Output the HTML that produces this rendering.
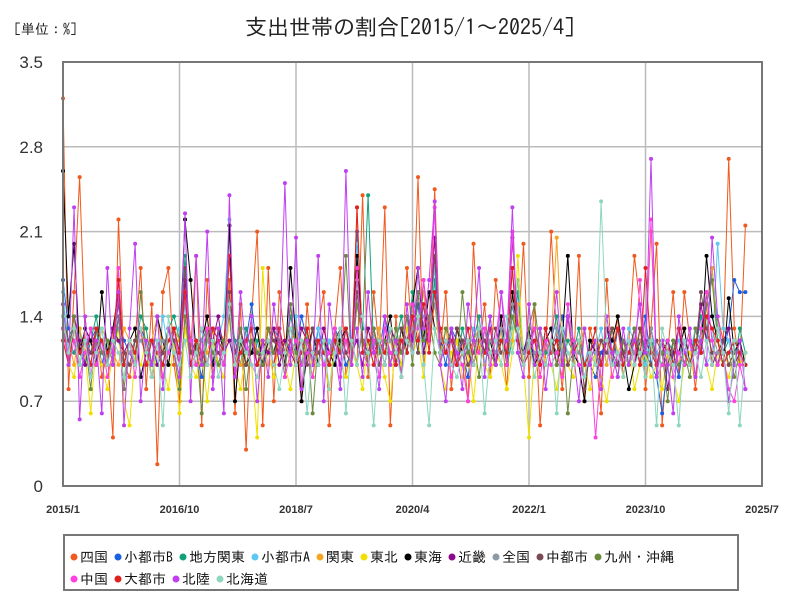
<!DOCTYPE html>
<html><head><meta charset="utf-8">
<style>
body{margin:0;background:#fff;}
svg{display:block;font-family:"Liberation Sans","Noto Sans CJK JP",sans-serif;}
.cjk{font-family:"IPAGothic","Noto Sans CJK JP",sans-serif;}
</style></head>
<body>
<svg id="chart" width="800" height="600" viewBox="0 0 800 600">
<rect width="800" height="600" fill="#fff"/>
<text x="410" y="35" text-anchor="middle" font-size="22" fill="#222" class="cjk">支出世帯の割合[2015/1～2025/4]</text>
<text x="14" y="34" font-size="14" fill="#222" class="cjk">[単位：%]</text>
<g id="grid"></g>
<g id="series"></g>
<rect x="63" y="62" width="699" height="424" fill="none" stroke="#777" stroke-width="2"/>
<g id="axes"></g>
<rect x="64" y="535" width="674" height="55" fill="#fff" stroke="#777" stroke-width="2"/>
<g id="legend"></g>
</svg>
<script>
const yTicks=[0,0.7,1.4,2.1,2.8,3.5];
const yTickLabels=["0","0.7","1.4","2.1","2.8","3.5"];
const xTickMonths=[0,21,42,63,84,105,126];
const xTickLabels=["2015/1","2016/10","2018/7","2020/4","2022/1","2023/10","2025/7"];
const seriesNames=["四国","小都市B","地方関東","小都市A","関東","東北","東海","近畿","全国","中都市","九州・沖縄","中国","大都市","北陸","北海道"];
const seriesColors=["#f05a1e","#1a5fe0","#11a07a","#5ec8f2","#f5a623","#f0e000","#000000","#8b0a8b","#8c9aa8","#7a4a55","#6b8a3e","#ff40e0","#e02020","#c040f0","#8ed6c0"];
const s_shikoku=[3.2,0.8,1.6,2.55,1.2,1.0,1.3,0.9,1.1,0.4,2.2,1.0,0.9,1.2,1.8,0.8,1.5,0.18,1.6,1.8,1.0,0.7,1.4,1.1,1.9,0.5,1.7,0.9,1.3,1.2,1.7,0.6,1.5,0.3,1.4,2.1,0.5,1.8,0.7,1.6,1.2,1.1,1.4,0.7,1.5,1.0,1.3,1.6,0.5,1.3,1.8,0.9,1.2,1.0,2.4,0.9,1.6,1.1,2.3,0.5,1.4,0.9,1.8,1.2,2.55,1.0,1.3,2.45,1.1,1.6,0.8,1.3,1.2,0.7,2.0,1.1,1.5,0.9,1.7,1.3,0.8,1.6,1.2,2.0,0.9,1.5,0.5,1.1,2.1,1.2,0.8,1.4,1.0,1.9,0.7,1.3,1.1,0.6,1.7,1.0,1.4,0.9,1.2,1.9,1.5,0.8,1.3,2.0,0.5,1.1,1.6,0.9,1.6,1.2,0.8,1.3,1.5,1.0,1.4,1.2,2.7,1.3,1.0,2.15];
const s_smallB=[1.7,1.3,1.2,1.1,1.0,1.2,1.3,1.0,1.2,1.1,1.4,1.2,1.1,1.0,1.3,1.2,0.9,1.1,1.2,1.0,1.3,1.1,1.6,1.2,1.1,0.9,1.2,1.3,1.0,1.2,1.4,0.9,1.1,1.2,1.5,1.1,1.0,1.2,1.1,1.3,1.0,1.2,1.1,1.4,1.2,1.0,1.3,1.1,1.0,1.3,1.2,1.0,1.1,2.1,1.2,1.0,1.3,1.1,1.4,1.2,1.1,1.0,1.3,1.2,1.5,1.1,1.4,1.6,1.2,1.0,1.3,1.2,1.1,0.9,1.2,1.3,1.1,1.4,1.0,1.2,1.1,1.5,1.2,1.0,1.1,1.2,1.0,1.3,1.1,1.2,1.4,1.0,1.2,1.1,1.3,1.0,0.9,1.1,1.2,1.0,1.3,1.1,1.0,1.2,1.1,1.4,1.0,0.9,0.6,1.0,1.1,0.9,1.2,1.0,1.3,1.1,1.6,1.2,1.0,1.1,1.3,1.7,1.6,1.6];
const s_chihoKanto=[1.5,1.2,1.1,1.3,1.0,1.2,1.4,1.1,1.0,1.3,1.2,1.0,1.2,1.1,1.4,1.3,1.0,1.2,1.1,1.3,1.4,1.2,1.9,1.1,1.0,1.2,1.3,0.9,1.2,1.1,1.5,1.2,1.0,1.3,1.1,1.2,1.0,1.1,1.3,1.2,1.0,1.4,1.2,1.1,1.3,1.0,1.2,1.1,1.2,1.0,1.3,1.1,1.2,1.0,1.3,2.4,1.1,1.2,1.0,1.3,1.2,1.4,1.1,1.6,1.3,1.5,1.2,1.7,1.1,1.3,1.2,1.0,1.3,1.1,1.2,1.4,1.0,1.2,1.1,1.3,1.0,1.2,1.6,1.1,1.2,1.0,1.3,1.1,1.2,1.4,1.0,1.2,1.1,1.3,1.0,1.2,1.1,1.0,1.2,1.3,1.1,1.0,1.2,1.1,1.3,1.0,1.2,1.1,1.0,1.2,1.1,1.3,1.0,1.2,1.1,1.4,1.2,1.8,1.3,1.1,1.2,1.0,1.3,1.1];
const s_smallA=[1.6,1.1,1.3,1.2,1.0,1.1,1.2,1.3,1.0,1.2,1.5,1.1,1.2,1.0,1.3,1.1,1.2,1.0,1.4,1.1,1.2,1.3,1.5,1.0,1.2,1.1,1.3,1.0,1.2,1.4,2.2,1.0,1.1,1.2,1.3,1.0,1.1,1.2,1.0,1.3,1.1,1.2,1.4,1.0,1.2,1.1,1.3,1.0,1.2,1.1,1.0,1.3,1.2,2.0,1.1,1.2,1.0,1.3,1.1,1.2,1.0,1.3,1.2,1.4,1.1,1.5,1.3,1.8,1.2,1.1,1.3,1.0,1.2,1.1,1.3,1.2,1.0,1.2,1.1,1.4,1.0,1.3,1.7,1.1,1.2,1.3,1.0,1.2,1.1,1.3,1.0,1.5,1.2,1.1,1.0,1.2,1.1,1.3,1.0,1.2,1.1,1.0,1.3,1.2,1.1,1.0,1.3,1.1,1.2,1.0,1.1,1.2,1.0,1.1,1.3,1.2,1.0,1.1,2.0,1.3,1.2,1.0,1.1,1.0];
const s_kanto=[1.4,1.2,1.0,1.3,1.1,1.2,1.0,1.3,1.2,1.1,1.0,1.3,1.2,1.1,1.3,1.0,1.2,1.4,1.1,1.0,1.3,1.2,1.7,1.1,1.0,1.2,1.1,1.3,1.0,1.2,1.4,1.1,1.0,1.2,1.3,1.1,1.2,1.0,1.3,1.1,1.2,1.0,1.1,1.3,1.2,1.0,1.1,1.2,1.0,1.3,1.1,1.2,1.0,2.3,1.1,1.2,1.0,1.3,1.1,1.2,1.0,1.2,1.4,1.1,1.3,1.6,1.2,1.5,1.1,1.3,1.0,1.2,1.1,1.0,1.2,1.3,1.1,1.2,1.0,1.3,1.1,1.2,1.5,1.0,1.2,1.1,1.3,1.0,1.2,2.05,1.1,1.0,1.2,1.1,1.3,1.0,1.1,1.2,1.0,1.3,1.1,1.2,1.0,1.1,1.3,1.2,2.1,1.0,1.1,1.2,1.0,1.1,1.3,1.0,1.2,1.1,1.5,1.8,1.2,1.1,1.0,1.1,1.0,1.1];
const s_tohoku=[1.3,1.0,0.9,1.2,1.1,0.6,1.2,1.0,0.8,1.1,1.3,0.7,0.5,1.1,1.0,1.2,0.9,1.1,1.0,0.8,1.2,0.6,1.3,1.0,0.9,1.1,0.7,1.2,1.0,0.9,1.4,1.0,0.8,1.1,1.0,0.4,1.8,1.1,0.9,1.2,1.0,0.8,1.1,1.0,1.2,0.9,1.1,1.0,0.8,1.2,1.0,0.9,1.1,1.0,0.8,1.2,1.0,1.1,0.9,0.7,1.2,1.0,1.3,1.1,1.2,0.9,1.4,1.1,1.0,0.8,1.1,1.2,0.9,1.1,0.7,1.2,1.0,0.9,1.1,1.0,0.8,1.1,1.9,1.0,0.4,1.1,0.9,1.2,1.0,0.8,1.1,1.0,0.9,1.2,1.0,0.8,1.1,0.9,0.7,1.0,1.1,0.9,1.2,0.8,1.0,1.1,0.9,1.0,0.8,1.1,0.9,0.7,1.0,1.1,0.9,1.2,1.0,0.8,1.1,1.0,0.9,1.1,1.0,1.1];
const s_tokai=[2.6,1.4,2.0,1.1,1.3,1.2,1.0,1.6,1.1,1.3,1.6,1.0,1.2,1.3,0.9,1.1,1.0,1.4,1.2,1.0,1.3,1.1,2.2,1.7,1.1,1.2,1.4,1.0,1.3,1.1,2.15,0.7,1.2,1.0,1.1,1.3,1.0,1.2,1.1,1.3,1.0,1.8,1.2,0.7,1.1,1.3,1.0,1.2,1.1,1.0,1.2,1.3,1.1,1.9,1.2,1.0,1.3,1.1,1.2,1.4,1.0,1.3,1.1,1.5,1.8,1.2,1.6,1.3,1.1,1.2,1.0,1.3,1.1,1.2,1.0,1.3,1.1,1.2,1.0,1.4,1.0,1.6,1.2,1.1,1.3,1.0,1.1,1.2,1.3,1.0,1.2,1.9,1.1,1.0,0.7,1.2,1.1,1.0,1.3,1.2,1.4,1.1,0.8,1.0,1.2,1.1,1.3,1.0,1.1,1.2,1.0,1.1,1.3,1.0,1.2,1.1,1.9,1.4,1.2,1.0,1.55,1.1,1.2,1.0];
const s_kinki=[1.3,1.1,1.4,1.2,1.0,1.3,1.1,1.2,1.0,1.3,1.2,1.1,1.2,1.0,1.3,1.1,1.2,1.0,1.1,1.3,1.2,1.0,1.7,1.2,1.1,1.3,1.0,1.2,1.4,1.1,1.2,1.0,1.3,1.1,1.2,1.0,1.2,1.1,1.3,1.0,1.2,1.1,1.0,1.3,1.2,1.1,1.0,1.3,1.1,1.2,1.0,1.3,1.1,1.2,1.0,1.3,1.1,1.2,1.0,1.3,1.2,1.1,1.4,1.2,1.6,1.1,1.3,2.05,1.2,1.1,1.3,1.0,1.2,1.1,1.0,1.3,1.2,1.1,1.0,1.2,1.1,2.05,1.3,1.0,1.2,1.1,1.0,1.3,1.1,1.2,1.0,1.4,1.1,1.2,1.0,1.1,1.2,1.0,1.3,1.1,1.0,1.2,1.1,1.3,1.0,1.2,1.1,1.0,1.2,0.8,1.1,1.3,1.0,1.2,1.1,1.5,1.2,1.0,1.1,1.2,1.3,1.0,1.1,1.0];
const s_zenkoku=[1.4,1.2,1.2,1.1,1.2,1.1,1.2,1.2,1.1,1.2,1.3,1.1,1.1,1.2,1.2,1.1,1.2,1.1,1.2,1.1,1.2,1.1,1.5,1.2,1.1,1.2,1.2,1.1,1.2,1.2,1.4,1.1,1.2,1.1,1.2,1.1,1.1,1.2,1.1,1.2,1.1,1.3,1.2,1.1,1.2,1.1,1.2,1.1,1.1,1.2,1.1,1.2,1.1,1.7,1.2,1.1,1.2,1.1,1.2,1.2,1.1,1.2,1.2,1.3,1.3,1.4,1.3,1.5,1.2,1.2,1.2,1.1,1.2,1.1,1.2,1.2,1.1,1.2,1.1,1.3,1.1,1.5,1.3,1.1,1.2,1.1,1.1,1.2,1.1,1.3,1.1,1.4,1.2,1.1,1.0,1.1,1.1,1.0,1.2,1.1,1.1,1.1,1.0,1.1,1.2,1.1,1.3,1.0,1.1,1.1,1.0,1.1,1.1,1.0,1.1,1.2,1.4,1.3,1.1,1.1,1.1,1.2,1.1,1.1];
const s_chuto=[1.4,1.2,1.3,1.0,1.2,1.1,1.3,1.2,1.0,1.2,1.5,1.1,1.0,1.2,1.3,1.1,1.0,1.2,1.1,1.3,1.2,1.0,1.8,1.1,1.2,1.0,1.3,1.2,1.1,1.0,1.6,1.1,1.3,1.0,1.2,1.1,1.0,1.3,1.2,1.1,1.0,1.5,1.1,1.2,1.0,1.3,1.1,1.2,1.0,1.2,1.3,1.1,1.0,1.6,1.2,1.1,1.3,1.0,1.2,1.1,1.0,1.3,1.2,1.4,1.1,1.7,1.3,1.9,1.1,1.2,1.0,1.3,1.2,1.0,1.1,1.3,1.2,1.0,1.3,1.1,1.2,1.8,1.1,1.0,1.2,1.3,1.1,1.0,1.2,1.1,1.3,1.0,1.1,1.2,0.8,1.1,1.0,1.2,1.1,1.3,1.0,1.1,1.2,1.0,1.3,1.1,1.0,1.2,1.1,1.0,1.2,1.1,1.0,1.2,1.1,1.6,1.3,1.1,1.0,1.2,1.0,1.1];
const s_kyushu=[1.3,1.1,1.4,1.0,1.2,0.8,1.3,1.1,1.2,1.0,1.4,0.8,1.2,1.0,1.6,1.1,0.9,1.2,1.0,1.3,1.1,0.8,1.4,1.0,1.2,0.6,1.3,1.1,1.0,1.2,1.4,1.0,1.3,0.8,1.2,1.1,1.0,1.3,1.1,1.2,0.9,1.5,1.1,1.0,1.3,0.6,1.2,1.1,1.0,1.3,1.1,1.9,1.0,1.5,1.2,1.0,1.3,1.1,1.2,1.0,1.3,1.1,1.4,1.0,1.6,1.2,1.4,1.1,1.0,1.3,1.2,1.0,1.6,1.1,1.2,0.9,1.3,1.1,1.0,1.2,1.1,1.4,1.2,1.0,1.3,1.5,1.1,1.0,1.2,1.0,1.3,0.6,1.1,1.2,1.0,1.1,1.3,1.0,1.2,1.1,0.9,1.2,1.0,1.3,1.1,0.9,1.2,1.0,1.1,0.7,1.2,1.0,1.1,0.9,1.3,1.1,1.5,1.7,1.2,1.0,1.1,0.9,1.1,1.0];
const s_chugoku=[1.3,1.0,1.2,0.9,1.1,1.3,1.0,1.2,0.9,1.1,1.8,1.0,1.2,0.9,1.3,1.1,1.0,1.2,0.9,1.1,1.3,1.0,1.6,1.2,1.0,1.1,1.3,0.9,1.2,1.0,1.5,0.9,1.1,1.2,1.0,0.9,1.1,1.2,1.0,1.3,0.9,1.1,1.2,1.0,1.1,0.9,1.2,1.0,1.1,1.3,0.9,1.2,1.0,1.8,1.1,1.0,1.2,0.9,1.3,1.1,1.0,1.2,1.1,1.5,1.3,1.7,1.2,2.3,1.0,1.2,0.9,1.1,1.0,0.7,1.2,1.1,1.3,1.0,1.2,1.6,1.0,2.1,1.2,1.0,1.1,1.3,0.9,1.2,1.0,1.1,0.9,1.5,1.2,1.0,0.9,1.1,0.4,1.0,1.2,0.9,1.1,1.0,1.2,1.0,1.7,1.1,2.2,0.9,1.0,1.2,0.9,1.1,1.0,1.2,0.9,1.3,1.6,1.2,1.0,1.1,0.8,0.7,1.0,0.8];
const s_daitoshi=[1.2,1.0,1.3,1.1,1.2,1.0,1.3,1.2,1.1,1.2,1.7,1.0,1.2,1.1,1.3,1.0,1.2,1.1,1.0,1.2,1.3,1.1,1.6,1.0,1.2,1.1,1.0,1.3,1.2,1.1,1.9,1.0,1.1,1.2,1.3,1.0,1.1,1.2,1.0,1.3,1.1,1.2,1.0,1.1,1.3,1.0,1.2,1.1,1.0,1.2,1.1,1.3,1.0,2.3,1.1,1.2,1.0,1.2,1.1,1.3,1.0,1.2,1.1,1.4,1.2,1.5,1.1,1.6,1.3,1.1,1.2,1.0,1.1,1.3,1.0,1.2,1.1,1.3,1.0,1.2,1.1,1.8,1.2,1.0,1.1,1.2,1.0,1.3,1.1,1.2,1.0,1.4,1.1,1.2,1.0,1.1,1.3,1.0,1.2,1.1,1.3,1.0,1.1,1.2,1.0,1.8,1.1,1.0,1.2,1.1,1.0,1.3,1.1,1.0,1.2,1.1,1.4,1.3,1.2,1.0,1.1,1.2,1.1,1.0];
const s_hokuriku=[1.5,1.0,2.3,0.55,1.4,0.9,1.2,0.6,1.8,1.0,1.6,0.5,1.3,2.0,0.7,1.2,1.0,1.4,0.8,1.3,1.1,0.9,2.25,0.7,1.9,1.0,2.1,0.8,1.3,0.6,2.4,0.9,1.6,1.1,1.4,0.7,1.2,0.9,1.5,1.1,2.5,1.0,2.05,0.8,1.2,1.0,1.9,0.7,1.5,1.1,0.8,2.6,1.0,1.3,0.9,1.6,1.1,0.8,1.4,1.0,1.2,0.9,1.5,1.1,1.8,1.3,1.7,2.35,1.0,0.7,1.3,1.1,0.8,1.5,1.2,1.8,0.9,1.4,1.0,1.6,1.2,2.3,1.1,0.9,1.5,1.0,1.3,0.8,1.2,1.6,1.0,1.4,1.1,0.7,1.3,1.0,1.2,0.8,1.4,1.1,0.9,1.3,1.0,1.2,1.5,1.1,2.7,0.9,1.2,1.0,0.6,1.4,1.1,1.3,0.9,1.2,1.0,2.05,1.4,1.1,0.7,1.0,1.2,0.8];
const s_hokkaido=[1.4,1.1,1.3,1.0,1.2,0.9,1.1,1.3,1.0,1.2,1.1,0.9,1.2,1.0,1.3,1.1,0.9,1.2,0.5,1.4,1.1,1.0,1.2,0.9,1.1,1.3,1.0,1.2,0.9,1.1,1.5,1.0,1.2,1.1,1.0,0.9,1.1,1.2,1.0,0.8,1.1,1.3,1.0,1.2,0.6,1.1,1.0,1.2,0.8,1.1,1.3,0.6,1.2,1.0,1.4,1.1,0.5,1.2,1.0,1.3,1.1,0.9,1.2,1.1,1.4,1.0,0.5,1.3,1.1,1.2,1.0,0.9,1.1,1.2,1.0,1.3,0.6,1.1,1.2,1.0,1.4,1.1,1.3,1.0,1.2,0.9,1.1,1.0,1.2,0.6,1.3,1.1,1.0,1.2,0.9,1.1,1.0,2.35,1.2,1.0,1.1,0.9,1.2,1.0,1.1,0.9,1.2,0.5,1.3,1.1,1.0,0.5,1.2,1.0,1.1,0.9,1.2,1.0,1.3,1.1,0.6,1.2,0.5,1.1];
const seriesData=[s_shikoku,s_smallB,s_chihoKanto,s_smallA,s_kanto,s_tohoku,s_tokai,s_kinki,s_zenkoku,s_chuto,s_kyushu,s_chugoku,s_daitoshi,s_hokuriku,s_hokkaido];

const NS="http://www.w3.org/2000/svg";
const X0=63,X1=762,Y0=486,Y1=62,MONTHS=126,YMAX=3.5;
function xScale(m){return X0+m*(X1-X0)/MONTHS;}
function yScale(v){return Y0-v*(Y0-Y1)/YMAX;}
function mk(tag,attrs,parent){const e=document.createElementNS(NS,tag);for(const k in attrs)e.setAttribute(k,attrs[k]);parent.appendChild(e);return e;}

const grid=document.getElementById('grid');
const axes=document.getElementById('axes');
yTicks.forEach((v,i)=>{
  const y=yScale(v);
  const l=mk('line',{x1:X0,x2:X1,y1:y,y2:y,stroke:'#bbb','stroke-width':1.5},grid);
  
  
  const t=mk('text',{x:43,y:y+6,'text-anchor':'end','font-size':17,fill:'#333'},axes);
  t.textContent=yTickLabels[i];
  
  
});
xTickMonths.forEach((m,i)=>{
  const x=xScale(m);
  const l=mk('line',{x1:x,x2:x,y1:Y1,y2:Y0,stroke:'#bbb','stroke-width':1.5},grid);
  
  
  const t=mk('text',{x:x,y:513,'text-anchor':'middle','font-size':11,'font-weight':'bold',fill:'#333'},axes);
  t.textContent=xTickLabels[i];
  
  
});

const sg=document.getElementById('series');
seriesData.forEach((arr,si)=>{
  const g=mk('g',{},sg);
  
  
  const pts=arr.map((v,i)=>xScale(i).toFixed(1)+','+yScale(v).toFixed(1)).join(' ');
  const pl=mk('polyline',{points:pts,fill:'none',stroke:seriesColors[si],'stroke-width':1},g);
  
  
  arr.forEach((v,i)=>{
    const c=mk('circle',{cx:xScale(i),cy:yScale(v),r:2,fill:seriesColors[si]},g);
    
    
  });
});

const lg=document.getElementById('legend');
let lx=70,ly=562;
seriesNames.forEach((n,i)=>{
  const g=mk('g',{},lg);
  
  
  if(i===11){lx=70;ly+=22;}
  const t=mk('text',{x:lx+10,y:ly,'font-size':14,fill:'#111','class':'cjk'},g);
  t.textContent=n;
  const tw=t.getComputedTextLength();
  mk('circle',{cx:lx+4,cy:ly-5,r:3.5,fill:seriesColors[i]},g);
  lx+=tw+16;
});
</script>
</body></html>
